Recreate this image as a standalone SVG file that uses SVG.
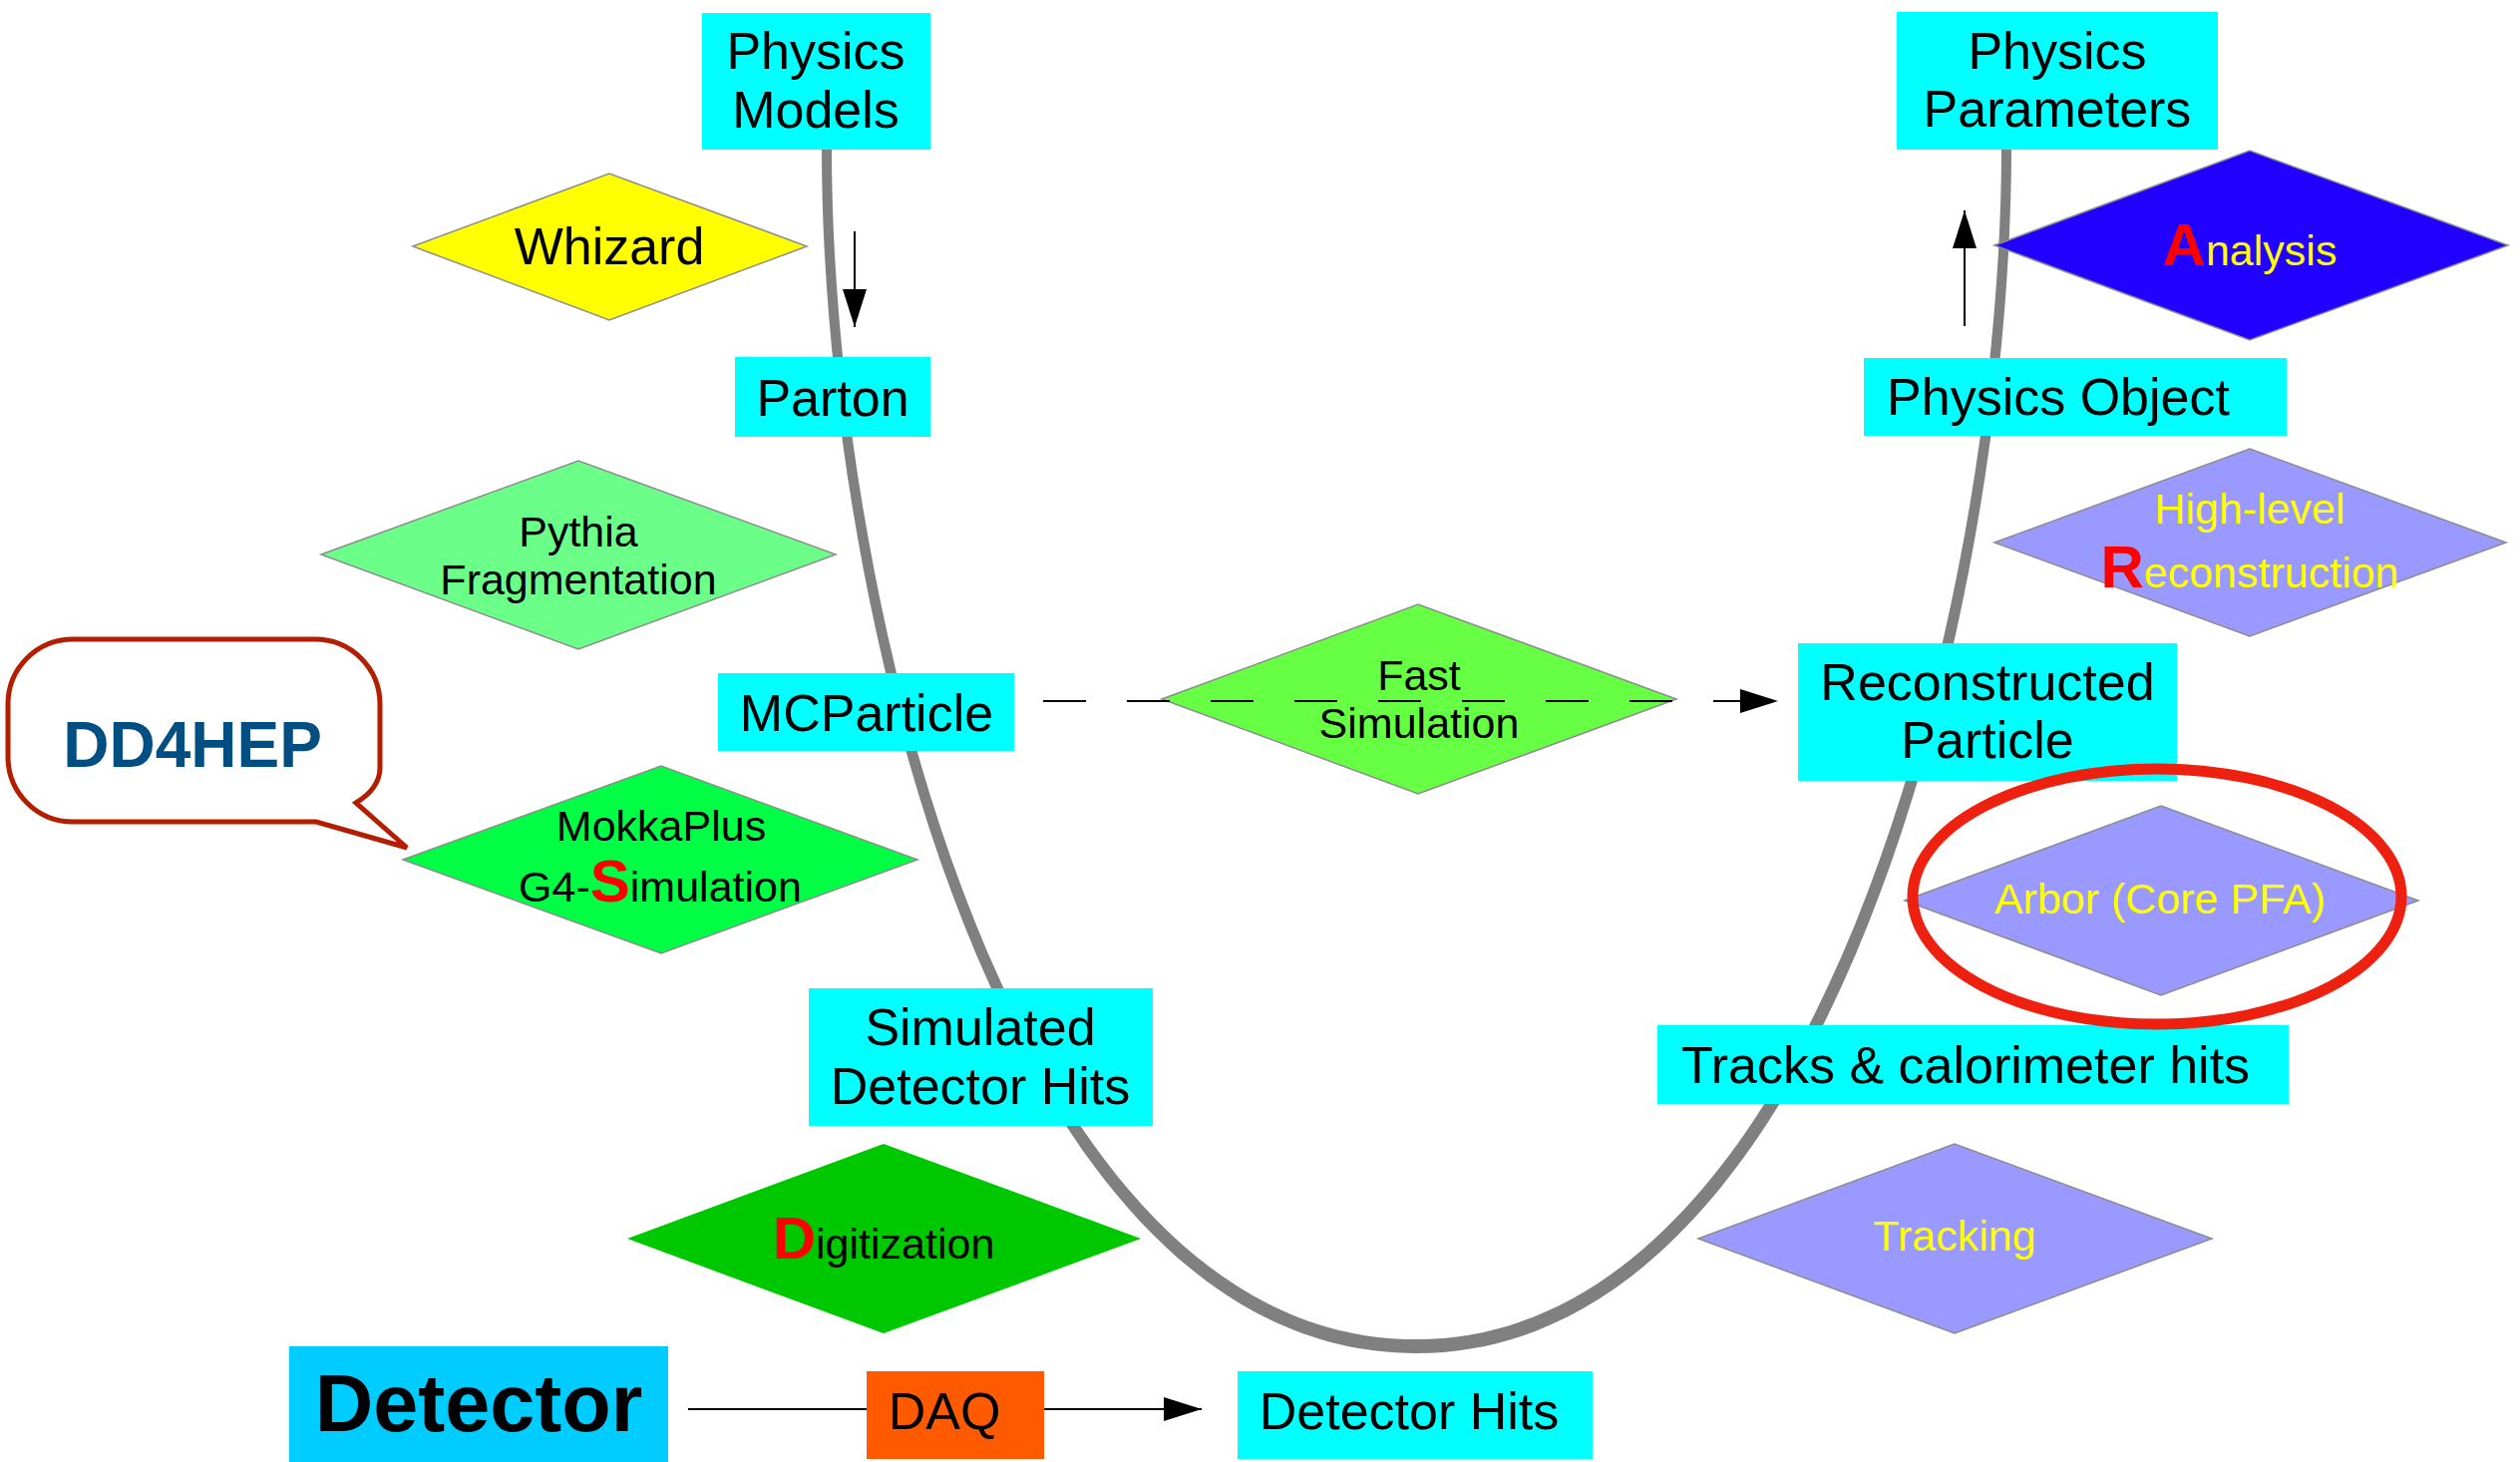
<svg xmlns="http://www.w3.org/2000/svg" width="2527" height="1466" viewBox="0 0 2527 1466">
<style>
.box{fill:#00FFFF}
.dia{stroke:#8c8c8c;stroke-width:1.5}
.t{font-family:"Liberation Sans",Arial,sans-serif;font-size:52px;text-anchor:middle;fill:#000}
.s{font-size:43px}
.y{fill:#FFFF00}
.r{fill:#FF0000;font-weight:bold;font-size:60px}
.ln{stroke:#000;stroke-width:2;fill:none}
</style>
<defs>
<marker id="ah" markerUnits="userSpaceOnUse" markerWidth="38" markerHeight="24" refX="38" refY="12" orient="auto">
<path d="M0,0 L38,12 L0,24 Z" fill="#000"/>
</marker>
</defs>
<rect width="2527" height="1466" fill="#fff"/>

<g id="connectors">
<path id="u-curve" d="M824 150 C824 603 1002 1357 1420 1357 C1837 1357 2017 602 2017 148 L2007 148 C2007 597 1825 1343 1420 1343 C1011 1343 834 597 834 150 Z" fill="#808080"/>
<line class="ln" x1="857" y1="232" x2="857" y2="328" marker-end="url(#ah)"/>
<line class="ln" x1="1970" y1="327" x2="1970" y2="211" marker-end="url(#ah)"/>
<line class="ln" x1="690" y1="1413" x2="1205" y2="1413" marker-end="url(#ah)"/>
</g>

<g id="physics-models"><rect class="box" x="704" y="13" width="229" height="137"/>
<text class="t" x="818" y="69">Physics</text><text class="t" x="818" y="128">Models</text></g>

<g id="whizard"><polygon class="dia" points="414,247 611,174 809,247 611,321" fill="#FFFF00"/>
<text class="t" x="611" y="265">Whizard</text></g>

<g id="parton"><rect class="box" x="737" y="358" width="196" height="80"/>
<text class="t" x="835" y="417">Parton</text></g>

<g id="pythia"><polygon class="dia" points="322,556 580,462 838,556 580,651" fill="#6BFF8A"/>
<text class="t s" x="580" y="548">Pythia</text><text class="t s" x="580" y="596">Fragmentation</text></g>

<g id="mcparticle"><rect class="box" x="720" y="675" width="297" height="78"/>
<text class="t" x="869" y="733">MCParticle</text></g>

<g id="fast-simulation"><polygon class="dia" points="1165,701 1422,606 1681,701 1422,796" fill="#66FF44"/>
<text class="t s" x="1423" y="692">Fast</text><text class="t s" x="1423" y="740">Simulation</text></g>

<g id="dashed-connector"><line x1="1046" y1="703" x2="1783" y2="703" stroke="#000" stroke-width="2" stroke-dasharray="43 41" marker-end="url(#ah)"/></g>

<g id="dd4hep"><path d="M73 641 H316 A65 65 0 0 1 381 706 V770 C381 785 370 797 357 805 L408 850 L317 824 H73 A65 65 0 0 1 8 759 V706 A65 65 0 0 1 73 641 Z" fill="#fff" stroke="#B41E00" stroke-width="5" stroke-linejoin="miter"/>
<text class="t" x="193" y="769" style="font-weight:bold;font-size:64px;fill:#004E82">DD4HEP</text></g>

<g id="mokkaplus"><polygon class="dia" points="404,862 663,768 920,862 663,956" fill="#00FF44"/>
<text class="t s" x="663" y="843">MokkaPlus</text>
<text class="t s" x="662" y="904">G4-<tspan class="r">S</tspan>imulation</text></g>

<g id="simulated-hits"><rect class="box" x="811" y="991" width="345" height="138"/>
<text class="t" x="983" y="1048">Simulated</text><text class="t" x="983" y="1107">Detector Hits</text></g>

<g id="digitization"><polygon points="629,1242 886,1147 1144,1242 886,1337" fill="#00C800"/>
<text class="t s" x="886" y="1262"><tspan class="r">D</tspan>igitization</text></g>

<g id="detector"><rect x="290" y="1350" width="380" height="116" fill="#00CCFF"/>
<text class="t" x="480" y="1435" style="font-weight:bold;font-size:81px">Detector</text></g>

<g id="daq"><rect x="869" y="1375" width="178" height="88" fill="#FF5A00"/>
<text class="t" x="947" y="1433">DAQ</text></g>

<g id="detector-hits"><rect class="box" x="1241" y="1375" width="356" height="88"/>
<text class="t" x="1413" y="1433">Detector Hits</text></g>

<g id="tracking"><polygon class="dia" points="1703,1242 1960,1147 2218,1242 1960,1337" fill="#9999FF"/>
<text class="t s y" x="1960" y="1254">Tracking</text></g>

<g id="tracks-calo"><rect class="box" x="1662" y="1028" width="633" height="79"/>
<text class="t" x="1971" y="1086">Tracks &amp; calorimeter hits</text></g>

<g id="arbor"><polygon class="dia" points="1910,903 2167,808 2425,903 2167,998" fill="#9999FF"/>
<text class="t s y" x="2166" y="916">Arbor (Core PFA)</text></g>

<g id="reco-particle"><rect class="box" x="1803" y="645" width="380" height="138"/>
<text class="t" x="1993" y="702">Reconstructed</text><text class="t" x="1993" y="760">Particle</text></g>

<g id="highlevel-reco"><polygon class="dia" points="2000,544 2256,450 2513,544 2256,638" fill="#9999FF"/>
<text class="t s y" x="2256" y="525">High-level</text>
<text class="t s y" x="2256" y="589"><tspan class="r">R</tspan>econstruction</text></g>

<g id="physics-object"><rect class="box" x="1869" y="359" width="424" height="78"/>
<text class="t" x="2064" y="416">Physics Object</text></g>

<g id="analysis"><polygon class="dia" points="2000,246 2256,151 2515,246 2256,341" fill="#2200FF"/>
<text class="t s y" x="2256" y="266"><tspan class="r">A</tspan>nalysis</text></g>

<g id="physics-parameters"><rect class="box" x="1902" y="12" width="322" height="138"/>
<text class="t" x="2063" y="69">Physics</text><text class="t" x="2063" y="127">Parameters</text></g>

<g id="arbor-highlight"><ellipse cx="2163" cy="899" rx="245" ry="128" fill="none" stroke="#EE2010" stroke-width="11"/></g>
</svg>
